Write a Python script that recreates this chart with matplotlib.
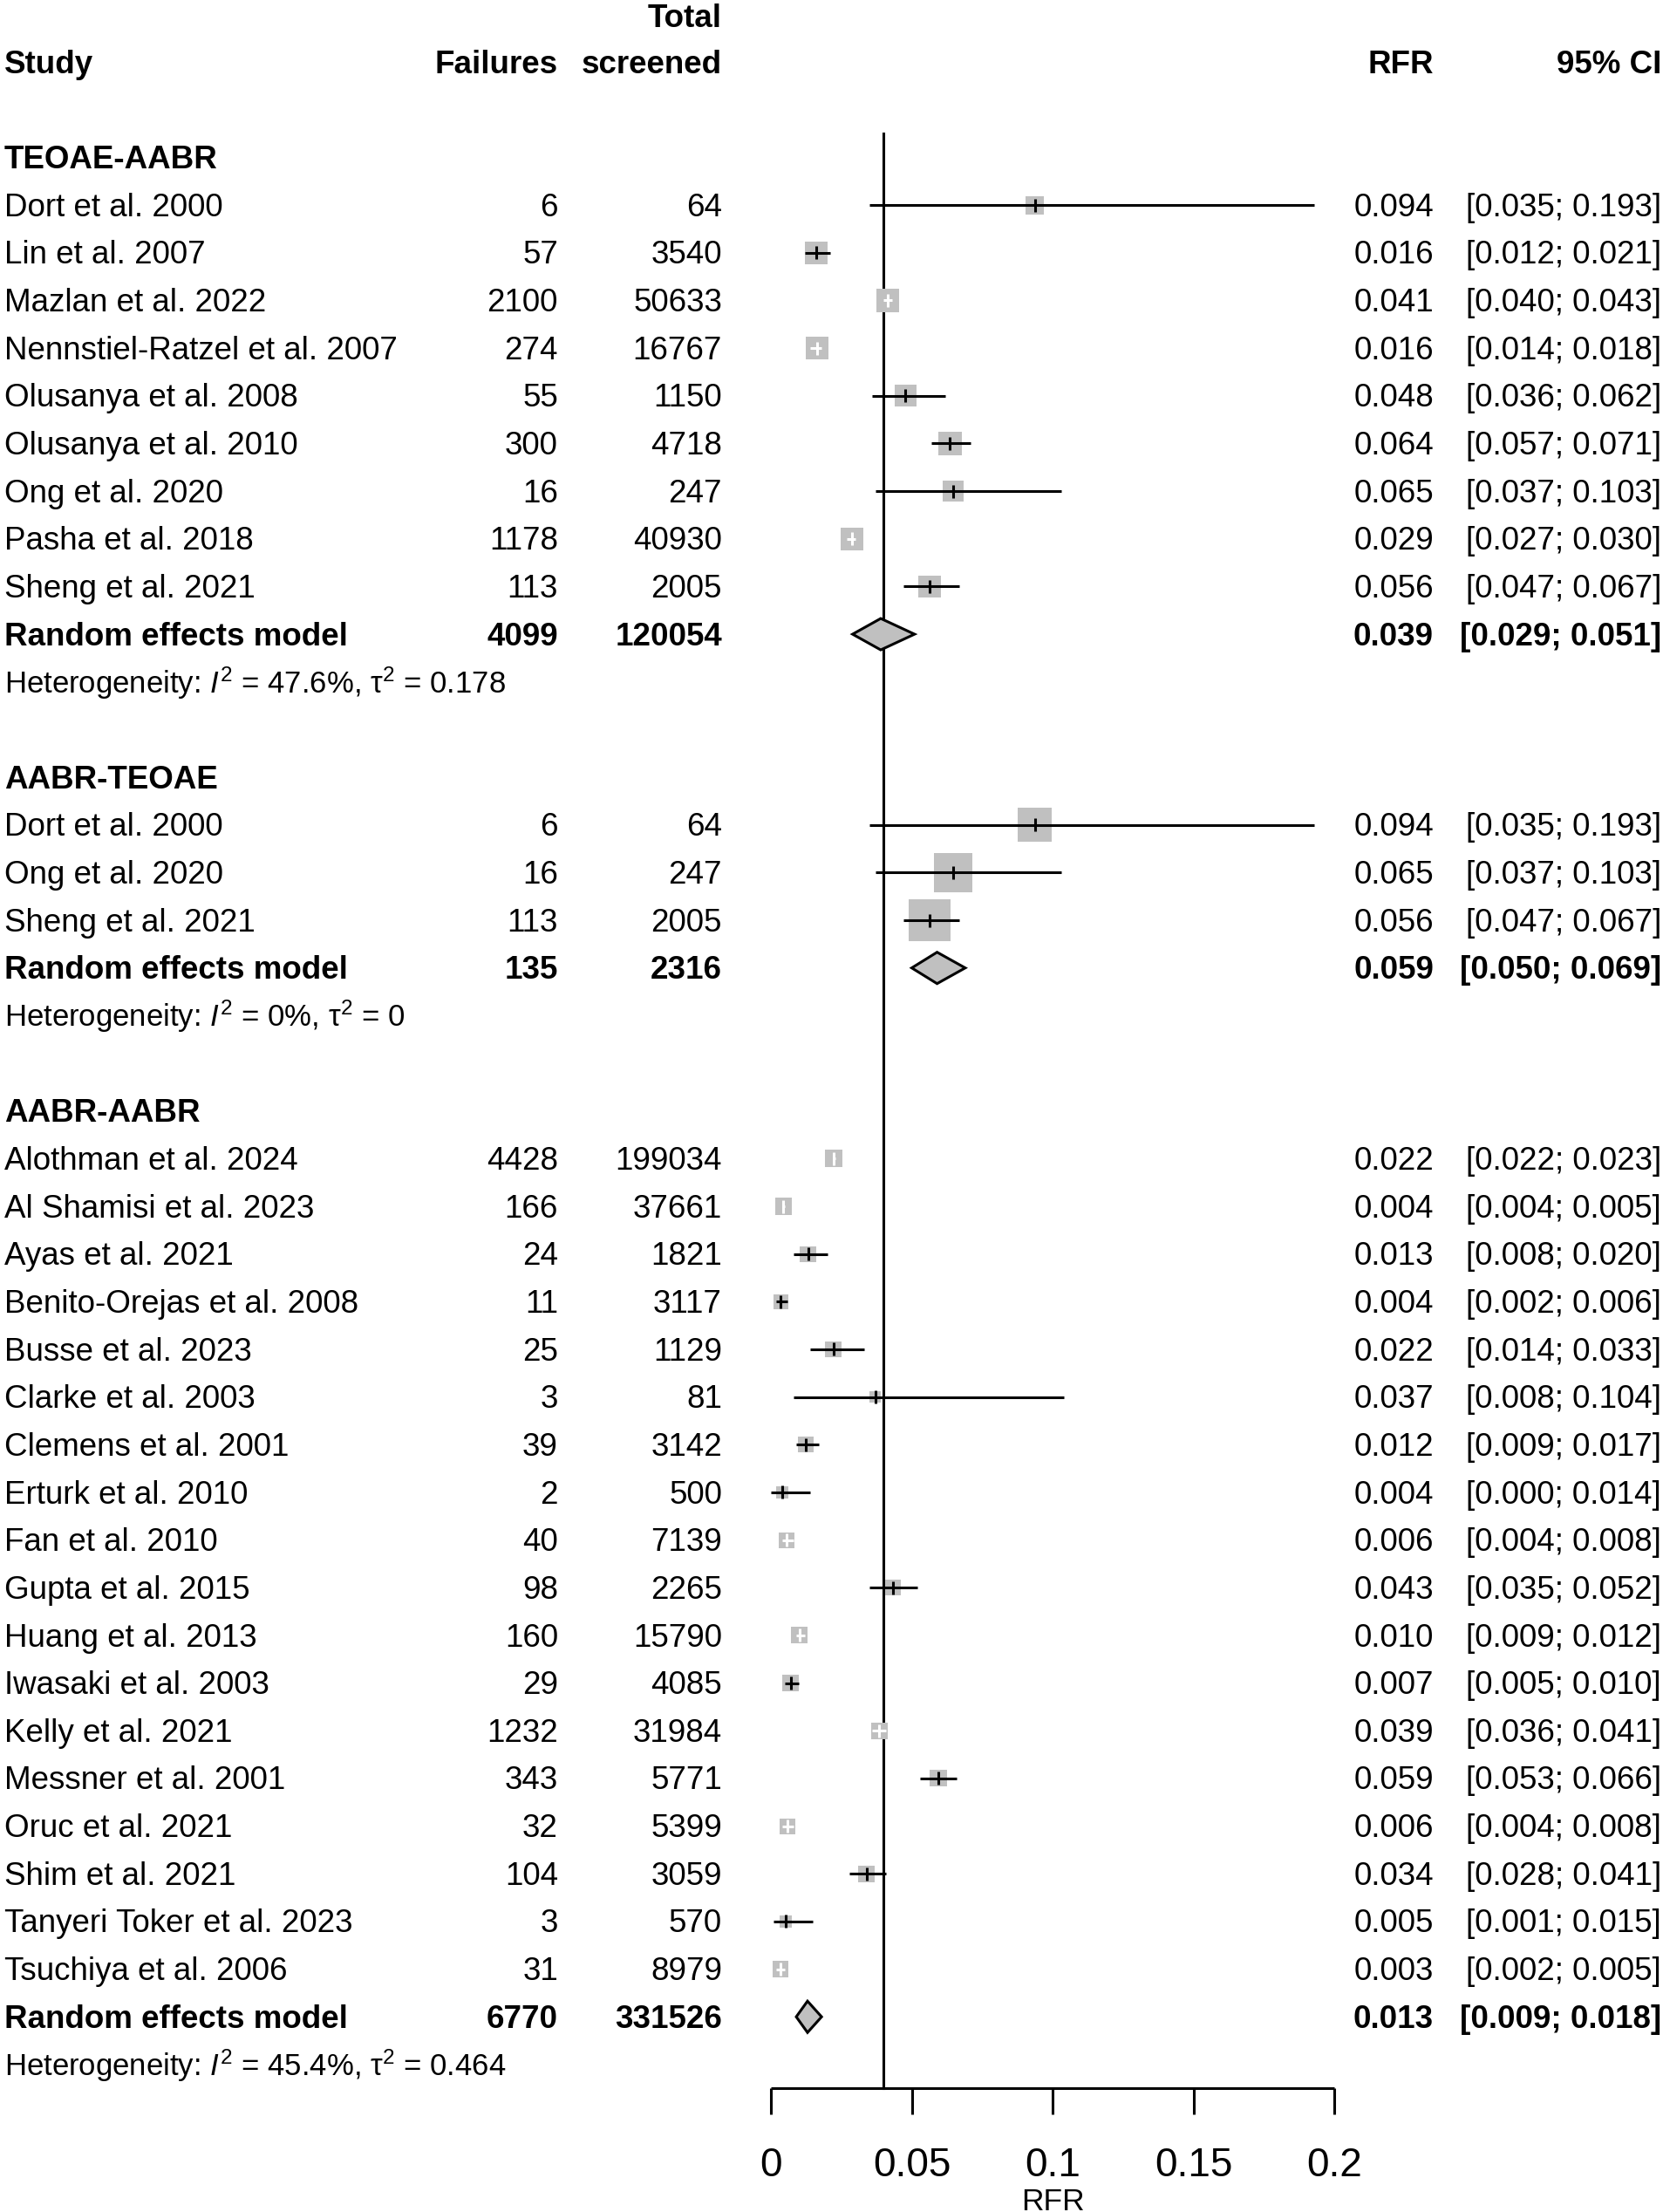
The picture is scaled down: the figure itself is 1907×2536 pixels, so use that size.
import matplotlib
matplotlib.use("Agg")
import matplotlib.pyplot as plt
from matplotlib.patches import Polygon

# ---------------- data ----------------
group_names = ["TEOAE-AABR", "AABR-TEOAE", "AABR-AABR"]

studies_1 = ["Dort et al. 2000", "Lin et al. 2007", "Mazlan et al. 2022",
             "Nennstiel-Ratzel et al. 2007", "Olusanya et al. 2008", "Olusanya et al. 2010",
             "Ong et al. 2020", "Pasha et al. 2018", "Sheng et al. 2021"]
failures_1 = [6, 57, 2100, 274, 55, 300, 16, 1178, 113]
screened_1 = [64, 3540, 50633, 16767, 1150, 4718, 247, 40930, 2005]
rfr_1 = [0.094, 0.016, 0.041, 0.016, 0.048, 0.064, 0.065, 0.029, 0.056]
lower_1 = [0.035, 0.012, 0.040, 0.014, 0.036, 0.057, 0.037, 0.027, 0.047]
upper_1 = [0.193, 0.021, 0.043, 0.018, 0.062, 0.071, 0.103, 0.030, 0.067]
weight_1 = [7.6, 11.5, 11.8, 11.7, 10.7, 12.3, 9.8, 11.8, 11.5]
pooled_1 = dict(failures=4099, screened=120054, rfr=0.039, lower=0.029, upper=0.051,
                i2="47.6%", tau2="0.178")

studies_2 = ["Dort et al. 2000", "Ong et al. 2020", "Sheng et al. 2021"]
failures_2 = [6, 16, 113]
screened_2 = [64, 247, 2005]
rfr_2 = [0.094, 0.065, 0.056]
lower_2 = [0.035, 0.037, 0.047]
upper_2 = [0.193, 0.103, 0.067]
weight_2 = [26.7, 34.2, 39.1]
pooled_2 = dict(failures=135, screened=2316, rfr=0.059, lower=0.050, upper=0.069,
                i2="0%", tau2="0")

studies_3 = ["Alothman et al. 2024", "Al Shamisi et al. 2023", "Ayas et al. 2021",
             "Benito-Orejas et al. 2008", "Busse et al. 2023", "Clarke et al. 2003",
             "Clemens et al. 2001", "Erturk et al. 2010", "Fan et al. 2010",
             "Gupta et al. 2015", "Huang et al. 2013", "Iwasaki et al. 2003",
             "Kelly et al. 2021", "Messner et al. 2001", "Oruc et al. 2021",
             "Shim et al. 2021", "Tanyeri Toker et al. 2023", "Tsuchiya et al. 2006"]
failures_3 = [4428, 166, 24, 11, 25, 3, 39, 2, 40, 98, 160, 29, 1232, 343, 32, 104, 3, 31]
screened_3 = [199034, 37661, 1821, 3117, 1129, 81, 3142, 500, 7139, 2265, 15790, 4085,
              31984, 5771, 5399, 3059, 570, 8979]
rfr_3 = [0.022, 0.004, 0.013, 0.004, 0.022, 0.037, 0.012, 0.004, 0.006, 0.043, 0.010,
         0.007, 0.039, 0.059, 0.006, 0.034, 0.005, 0.003]
lower_3 = [0.022, 0.004, 0.008, 0.002, 0.014, 0.008, 0.009, 0.000, 0.004, 0.035, 0.009,
           0.005, 0.036, 0.053, 0.004, 0.028, 0.001, 0.002]
upper_3 = [0.023, 0.005, 0.020, 0.006, 0.033, 0.104, 0.017, 0.014, 0.008, 0.052, 0.012,
           0.010, 0.041, 0.066, 0.008, 0.041, 0.015, 0.005]
weight_3 = [7.0, 6.3, 5.7, 5.1, 5.7, 3.1, 5.7, 3.1, 5.7, 5.7, 6.3, 6.3, 6.3, 6.3, 5.7,
            6.3, 3.6, 5.7]
pooled_3 = dict(failures=6770, screened=331526, rfr=0.013, lower=0.009, upper=0.018,
                i2="45.4%", tau2="0.464")

overall_rfr = 0.040
axis_ticks = [0, 0.05, 0.1, 0.15, 0.2]
axis_ticklabels = ["0", "0.05", "0.1", "0.15", "0.2"]
axis_label = "RFR"

groups = [
    (group_names[0], studies_1, failures_1, screened_1, rfr_1, lower_1, upper_1, weight_1, pooled_1),
    (group_names[1], studies_2, failures_2, screened_2, rfr_2, lower_2, upper_2, weight_2, pooled_2),
    (group_names[2], studies_3, failures_3, screened_3, rfr_3, lower_3, upper_3, weight_3, pooled_3),
]

# ---------------- layout ----------------
W, H = 1908, 2536
DPI = 100
PX_PER_UNIT = 3230.0     # pixels per 1.0 RFR
X0_PX = 884.0            # pixel of RFR = 0
ROW_PX = 54.66           # pixels per row
ROW0_PX = 16.5

plt.rcParams["font.family"] = ["Liberation Sans", "DejaVu Sans"]
plt.rcParams["mathtext.fontset"] = "custom"
plt.rcParams["mathtext.rm"] = "Liberation Sans"
plt.rcParams["mathtext.it"] = "Liberation Sans:italic"
plt.rcParams["mathtext.bf"] = "Liberation Sans:bold"

fig = plt.figure(figsize=(W / DPI, H / DPI), dpi=DPI)
ax = fig.add_axes([0, 0, 1, 1])
ax.set_xlim(-X0_PX / PX_PER_UNIT, (W - X0_PX) / PX_PER_UNIT)
ax.set_ylim((H - ROW0_PX) / ROW_PX, -ROW0_PX / ROW_PX)
ax.axis("off")

tr = ax.get_yaxis_transform()
FS = 26.5
FS_HET = 25.0
BASE = 0.23
LW = 2.2
GREY = "#C0C0C0"

X_STUDY = 5 / W
X_FAIL = 640 / W
X_TOT = 828 / W
X_RFR = 1644 / W
X_CI = 1905 / W


def txt(x, row, s, ha="left", bold=False, size=FS, **kw):
    ax.text(x, row + BASE, s, transform=tr, ha=ha, va="baseline", fontsize=size,
            fontweight="bold" if bold else "normal", color="black", **kw)


# header
txt(X_TOT, 0.03, "Total", ha="right", bold=True)
txt(X_STUDY, 1, "Study", bold=True)
txt(X_FAIL, 1, "Failures", ha="right", bold=True)
txt(X_TOT, 1, "screened", ha="right", bold=True)
txt(X_RFR, 1, "RFR", ha="right", bold=True)
txt(X_CI, 1, "95% CI", ha="right", bold=True)

px_per_row = ROW_PX
row = 3
for (gname, names, fails, tots, rfrs, los, his, ws, pooled) in groups:
    txt(X_STUDY, row, gname, bold=True)
    for i in range(len(names)):
        r = row + 1 + i
        txt(X_STUDY, r, names[i])
        txt(X_FAIL, r, f"{fails[i]}", ha="right")
        txt(X_TOT, r, f"{tots[i]}", ha="right")
        txt(X_RFR, r, f"{rfrs[i]:.3f}", ha="right")
        txt(X_CI, r, f"[{los[i]:.3f}; {his[i]:.3f}]", ha="right")

        est = fails[i] / tots[i]
        side_px = 7.6 * ws[i] ** 0.5
        side_pt = side_px * 72 / DPI
        ax.scatter([est], [r], s=side_pt ** 2, marker="s", color=GREY,
                   edgecolors="none", zorder=2)
        half = side_px / 2
        d_lo = (est - los[i]) * PX_PER_UNIT
        d_hi = (his[i] - est) * PX_PER_UNIT
        inside = max(d_lo, d_hi) < 0.9 * half
        c = "white" if inside else "black"
        ax.plot([los[i], his[i]], [r, r], color=c, lw=LW, solid_capstyle="butt", zorder=3)
        tick_h = 7.5 / px_per_row
        ax.plot([est, est], [r - tick_h, r + tick_h], color=c, lw=LW,
                solid_capstyle="butt", zorder=3)

    r = row + 1 + len(names)
    txt(X_STUDY, r, "Random effects model", bold=True)
    txt(X_FAIL, r, f"{pooled['failures']}", ha="right", bold=True)
    txt(X_TOT, r, f"{pooled['screened']}", ha="right", bold=True)
    txt(X_RFR, r, f"{pooled['rfr']:.3f}", ha="right", bold=True)
    txt(X_CI, r, f"[{pooled['lower']:.3f}; {pooled['upper']:.3f}]", ha="right", bold=True)
    dh = 18 / px_per_row
    diamond = Polygon([(pooled["lower"], r), (pooled["rfr"], r - dh),
                       (pooled["upper"], r), (pooled["rfr"], r + dh)],
                      closed=True, facecolor=GREY, edgecolor="black", lw=LW, zorder=3)
    ax.add_patch(diamond)
    txt(X_STUDY, r + 1,
        f"Heterogeneity: $I^2$ = {pooled['i2']}, τ$^2$ = {pooled['tau2']}",
        size=FS_HET)
    row = r + 3

# reference line and axis
axis_row = 43.5
ax.plot([overall_rfr, overall_rfr], [2.5, axis_row], color="black", lw=LW, zorder=1)
ax.plot([axis_ticks[0], axis_ticks[-1]], [axis_row, axis_row], color="black", lw=LW,
        solid_capstyle="butt")
for t, lab in zip(axis_ticks, axis_ticklabels):
    ax.plot([t, t], [axis_row, axis_row + 0.54], color="black", lw=LW, solid_capstyle="butt")
    ax.text(t, 45.34, lab, ha="center", va="baseline", fontsize=33)
ax.text(0.1, 46.05, axis_label, ha="center", va="baseline", fontsize=25.5)

fig.savefig("out.png", dpi=DPI, facecolor="white")
